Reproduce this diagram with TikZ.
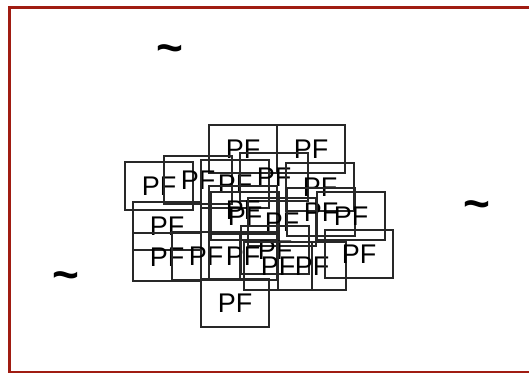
\documentclass[tikz,border=0pt]{standalone}
\usepackage{fontspec}
\setmainfont{Liberation Sans}
\definecolor{framered}{RGB}{160,28,18}
\definecolor{boxgray}{RGB}{40,40,40}
\tikzset{
  pfbox/.style={draw=boxgray, line width=1.2pt, minimum width=68pt, minimum height=48pt,
    inner sep=0pt, font=\fontsize{27}{27}\selectfont, text=black},
  tildemark/.style={inner sep=0pt, font=\fontsize{46}{46}\selectfont\bfseries}
}
\begin{document}
\begin{tikzpicture}[x=1pt,y=-1pt]
\useasboundingbox (0,0) rectangle (529,372);
\begin{scope}
\clip (0,0) rectangle (529,372);
\draw[framered, line width=3pt] (540,7) -- (9.5,7) -- (9.5,372.5) -- (540,372.5);
\end{scope}
\node[tildemark] (t1) at (170,54) {\char`~};
\node[tildemark] (t2) at (477,210) {\char`~};
\node[tildemark] (t3) at (66,281) {\char`~};
\node[pfbox] (p1) at (243,149) {PF};
\node[pfbox] (p2) at (311,149) {PF};
\node[pfbox] (p3) at (159,186) {PF};
\node[pfbox] (p4) at (198,180) {PF};
\node[pfbox] (p5) at (235,184) {PF};
\node[pfbox] (p6) at (274,177) {PF};
\node[pfbox] (p7) at (320,187) {PF};
\node[pfbox] (p8) at (243,210) {PF};
\node[pfbox] (p9) at (245,216) {PF};
\node[pfbox] (p10) at (282,222) {PF};
\node[pfbox] (p11) at (321,212) {PF};
\node[pfbox] (p12) at (351,216) {PF};
\node[pfbox] (p13) at (167,226) {PF};
\node[pfbox] (p14) at (167,257) {PF};
\node[pfbox] (p15) at (206,256) {PF};
\node[pfbox] (p16) at (243,256) {PF};
\node[pfbox] (p17) at (275,250) {PF};
\node[pfbox] (p18) at (278,266) {PF};
\node[pfbox] (p19) at (312,266) {PF};
\node[pfbox] (p20) at (359,254) {PF};
\node[pfbox] (p21) at (235,303) {PF};
\end{tikzpicture}
\end{document}
